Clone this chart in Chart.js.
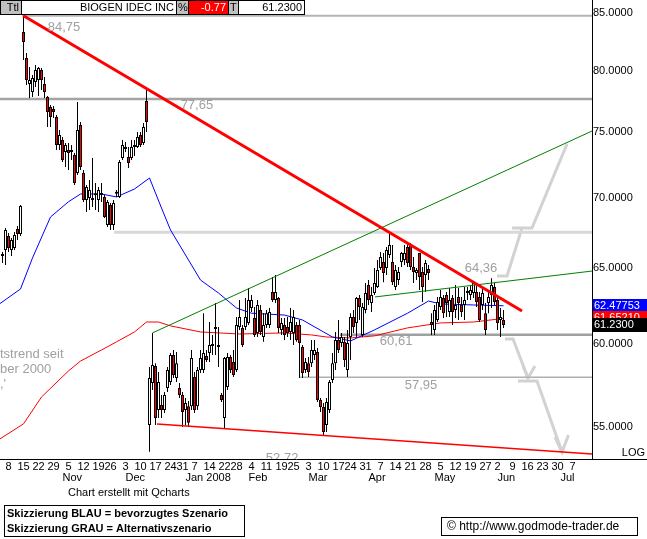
<!DOCTYPE html>
<html><head><meta charset="utf-8">
<script src="https://cdn.jsdelivr.net/npm/chart.js@4.4.1/dist/chart.umd.min.js"></script>
<style>html,body{margin:0;padding:0;background:#fff;}canvas{display:block;}</style>
</head><body>
<canvas id="c" width="647" height="539"></canvas>
<script>
// ---------- DATA ----------
const title = 'BIOGEN IDEC INC';
const changePct = '-0.77';
const lastPriceText = '61.2300';
const blueLastText = '62.47753';
const redLastText = '61.65210';

// trading-day index of first candle (index 0 = 8 Oct 2007)
const firstIndex = -2;
// candles: [open, high, low, close]
const candles = [
[65.97,66.11,65.35,65.83],[66.25,67.80,65.21,67.66],[67.23,67.45,66.11,66.39],[66.25,67.09,65.83,66.95],
[66.39,67.52,66.25,67.31],[67.73,67.94,66.95,67.38],[67.38,69.46,67.23,69.39],[83.32,84.75,80.90,82.45],
[81.07,81.50,78.80,79.22],[78.89,80.30,77.73,79.22],[78.22,79.64,77.81,79.39],[79.05,80.47,78.64,80.05],
[79.22,80.30,77.89,80.22],[80.05,80.22,78.39,79.22],[78.89,79.47,77.73,78.22],[77.81,77.89,75.40,76.60],
[77.00,77.16,75.40,76.20],[76.84,77.08,76.12,76.60],[76.20,76.36,73.60,73.98],[73.98,75.16,73.60,74.76],
[74.37,74.60,72.68,72.83],[73.44,74.14,72.29,73.98],[73.60,74.14,72.06,73.37],[73.52,73.98,72.83,73.44],
[73.21,73.37,70.94,71.08],[71.84,77.41,71.69,75.16],[75.56,75.80,72.06,72.29],[71.84,72.06,69.68,69.83],
[69.83,70.94,68.95,70.79],[69.98,71.31,69.10,70.57],[69.90,72.98,69.32,69.83],[70.32,71.08,69.10,70.17],
[69.83,70.79,68.95,70.57],[70.35,71.08,69.68,70.20],[70.05,70.20,68.51,68.59],[68.01,69.83,67.87,69.68],
[69.46,69.60,67.66,68.01],[68.01,69.83,67.66,69.60],[70.43,70.57,70.05,70.28],[70.05,72.83,69.98,72.68],
[72.98,74.37,72.83,73.98],[73.83,74.21,73.44,73.68],[73.06,73.83,72.21,72.60],[72.98,74.37,72.83,73.83],
[73.83,74.37,73.13,73.91],[73.83,75.00,73.75,74.60],[74.76,75.00,73.83,73.98],[74.14,75.72,73.98,75.40],
[77.49,78.56,75.00,75.80],
[55.12,58.58,53.58,57.91],[57.61,60.72,57.18,58.70],[58.64,58.82,55.12,55.53],[55.99,58.28,55.53,57.67],
[56.28,56.88,55.53,55.99],[55.99,57.06,55.82,56.88],[57.30,58.58,57.06,58.40],[57.67,59.45,57.48,59.33],
[59.33,59.64,57.91,58.09],[57.91,59.51,57.67,58.82],[57.30,57.61,56.70,56.88],[56.88,57.06,55.00,55.87],
[55.99,56.70,55.12,56.40],[56.22,56.52,55.00,55.24],[56.22,59.64,55.99,59.14],[57.97,58.28,55.82,55.99],
[56.22,58.58,55.99,58.40],[58.40,59.64,58.22,59.14],[58.40,61.99,58.22,59.45],[59.26,59.64,58.89,59.01],
[59.45,61.42,58.89,59.95],[59.89,60.59,59.33,60.02],[61.10,62.66,59.33,60.97],[59.89,61.10,58.58,59.83],
[56.88,57.00,56.46,56.58],[55.53,59.20,54.89,59.14],[57.36,59.45,57.18,59.20],[59.20,59.33,58.22,58.40],
[58.89,59.64,57.97,58.09],[58.40,61.74,58.28,61.23],[61.10,62.86,60.91,61.74],[61.04,61.23,59.83,59.95],
[61.10,62.99,60.91,61.74],[61.36,63.65,61.23,62.86],[62.33,63.19,62.07,62.86],[61.68,62.40,60.46,60.59],
[60.72,62.86,60.46,62.53],[62.20,62.53,60.59,60.78],[60.46,61.99,60.15,61.23],[61.23,62.20,61.04,61.99],
[61.23,62.33,61.04,62.07],[63.39,64.39,62.73,62.86],[62.86,64.53,62.66,63.39],[62.99,63.06,60.72,61.04],
[60.91,61.68,60.59,61.36],[61.23,61.68,60.27,60.59],[61.10,61.74,60.46,60.72],[60.78,62.33,60.27,61.42],
[60.72,62.20,59.95,61.74],[61.23,61.42,60.15,60.27],[61.23,61.55,57.91,60.08],[59.83,59.95,57.91,58.22],
[58.40,59.14,58.22,58.89],[58.82,59.20,57.97,58.28],[58.82,60.27,58.58,59.64],[59.33,60.27,59.01,59.64],
[59.51,59.76,56.46,56.58],[56.58,56.70,55.87,56.17],[56.17,56.40,54.54,54.71],[55.12,56.70,54.71,56.46],
[55.99,57.79,55.82,57.67],[57.79,59.45,57.61,58.82],[58.82,60.78,58.40,60.27],[60.27,61.55,59.45,59.64],
[60.08,60.72,59.83,60.46],[60.15,60.46,58.58,59.01],[58.40,60.91,57.97,60.08],[60.46,61.99,59.01,61.74],
[61.74,62.20,60.72,61.10],[61.36,63.06,60.46,62.99],[62.99,63.19,61.55,62.40],[60.59,62.66,60.46,62.40],
[62.20,63.99,61.99,63.32],[63.85,64.19,62.53,62.86],[62.66,63.72,62.07,63.19],[63.32,65.01,63.19,63.99],
[63.72,65.56,63.65,64.87],[65.01,66.11,64.87,65.77],[65.42,66.04,64.05,64.66],[65.01,66.46,64.53,66.25],
[65.90,67.45,65.70,66.60],[65.42,66.60,63.85,64.05],[63.72,65.21,63.52,64.87],[64.19,65.08,63.85,64.73],
[65.42,66.11,65.08,66.04],[65.56,66.60,65.21,66.04],[66.46,66.81,65.08,65.35],[66.60,66.74,64.87,65.08],
[65.08,65.77,63.99,64.73],[64.66,65.01,64.19,64.87],[66.04,66.04,63.52,64.39],[64.73,65.08,62.73,63.72],
[64.53,65.56,63.39,65.35],[64.94,65.21,64.19,64.66],[61.42,61.99,60.59,61.23],[60.91,62.53,60.59,62.20],
[61.55,63.06,61.42,62.73],[62.40,63.52,62.20,63.06],[62.99,63.19,61.68,61.99],[63.19,63.39,61.74,62.66],
[62.07,63.65,61.74,62.86],[62.99,63.19,61.23,62.07],[62.20,63.85,61.68,62.53],[63.06,63.65,61.55,62.66],
[62.53,63.06,61.74,62.07],[62.53,63.72,61.55,62.86],[63.39,63.72,62.86,63.32],[63.19,63.85,62.86,63.52],
[63.32,64.05,62.99,63.99],[63.39,63.85,62.40,62.73],[63.06,63.39,61.42,61.55],[62.53,63.72,62.20,63.32],
[61.99,62.66,60.59,60.91],[62.66,63.52,61.99,63.06],[63.19,64.32,62.33,63.85],[63.72,63.99,62.53,62.73],
[62.86,63.06,60.91,61.36],[61.55,62.33,60.46,61.74],[61.55,62.20,61.04,61.23]
];

// week ticks (trading-day index) with day labels
const tickIdx = [0,5,10,15,20,25,30,34,39,44,49,54,58,62,67,72,76,81,86,91,95,100,105,110,114,119,124,129,134,139,144,149,154,159,163,168,173,178,183,188];
const tickDay = ['8','15','22','29','5','12','19','26','3','10','17','24','31','7','14','22','28','4','11','19','25','3','10','17','24','31','7','14','21','28','5','12','19','27','2','9','16','23','30','7'];
// month labels at first trading day of each month
const monthIdx  = [18,39,59,80,100,120,142,163,184];
const monthName = ['Nov','Dec','Jan 2008','Feb','Mar','Apr','May','Jun','Jul'];
const yTicks = [55,60,65,70,75,80,85];

// moving averages [index, value]
const blueMA = [[-3,62.60],[4,63.59],[8,65.70],[14,68.59],[20,69.70],[24,70.27],[31,70.27],[36,70.05],[42,70.64],[47,71.46],
  [51,69.24],[54,67.66],[62,64.87],[64,64.19],[70,63.32],[76,62.33],[81,61.99],[92,61.87],[98,61.55],[105,60.78],[108,60.46],
  [114,60.21],[122,60.91],[133,61.99],[140,62.79],[144,62.60],[155,62.53],[165,62.478]];
const redMA = [[-3,54.30],[5,55.18],[11,56.76],[20,58.34],[24,58.95],[31,59.64],[36,60.15],[42,60.78],[46,61.42],[50,61.42],
  [54,61.17],[64,60.78],[77,60.65],[92,60.72],[101,60.59],[106,60.46],[114,60.40],[122,60.53],[133,61.04],[144,61.36],[155,61.42],[165,61.65]];

// trend lines [index, price]
const downTrend = [[5,84.75],[171.17,62.14]];
const upperChannel = [[48,60.72],[194.5,75.08]];
const lowerGreen = [[122.17,63.06],[194.5,64.80]];
const supportLine = [[49.5,55.17],[194.5,53.46]];

// horizontal levels
const levelValues = [84.75,77.65,67.5,60.61,57.95];
const levelFrom   = [4.5,-3,35.2,110.5,97.2];
const levelTexts  = ['84,75','77,65','64,36','60,61','57,95','52,72'];
const levelTextPos = [[18.5,83.76],[62.8,77.16],[157.5,65.01],[129.2,60.21],[137.5,57.48],[91.2,53.20]];

// scenario sketch paths [index, price]
const scenUp1 = [[162.83,64.46],[166.17,64.46],[171.17,67.80]];
const scenUp2 = [[167.83,67.80],[174.5,67.80],[186.17,74.06]];
const scenDn1 = [[165.5,60.33],[168.17,60.33],[173.17,57.91]];
const scenArr1 = [[171.5,58.64],[173.17,57.91],[175.5,58.64]];
const scenDn2 = [[169.83,57.73],[176.17,57.73],[184.5,53.57]];
const scenArr2 = [[182.17,54.42],[184.5,53.57],[186.67,54.54]];

const noteLines = [['tstrend seit',59.39],['ber 2000',58.46],[",'",57.54]];

// ---------- CHART ----------
const X_MIN = -8.5/3, X_MAX = (592-8.5)/3;
const Y_MIN = 53.18, Y_MAX = 86.17;
const FONT = '"Liberation Sans", Arial, sans-serif';
Chart.defaults.font.family = FONT;
Chart.defaults.font.size = 11;
Chart.defaults.color = '#000';

const pts = a => a.map(p => ({x:p[0], y:p[1]}));
function lineDs(points, color, width, order){
  return {type:'line', data:pts(points), borderColor:color, borderWidth:width, pointRadius:0, pointHoverRadius:0,
          fill:false, tension:0, order:order, borderCapStyle:'butt'};
}

const datasets = [];
datasets.push({type:'bar', data:candles.map((c,k)=>({x:firstIndex+k, y:[Math.min(c[0],c[3]),Math.max(c[0],c[3])]})),
  backgroundColor:candles.map(c=>c[3]>=c[0]?'#ffffff':'#ff0000'), borderColor:'#000', borderWidth:1,
  borderSkipped:false, barThickness:3, grouped:false, minBarLength:2, inflateAmount:0, order:2});
datasets.push({type:'bar', data:candles.map((c,k)=>({x:firstIndex+k, y:[c[2],c[1]]})),
  backgroundColor:'#000', borderWidth:0, barThickness:1, grouped:false, inflateAmount:0, order:3});
const levelColors = ['#b4b4b4','#a4a4a4','#d8d8d8','#a0a0a0','#b0b0b0'];
const levelWidths = [2,2.5,3,2.5,1.5];
levelValues.forEach((v,k)=>datasets.push(lineDs([[levelFrom[k],v],[X_MAX+1,v]], levelColors[k], levelWidths[k], 6)));
[scenUp1,scenUp2,scenDn1,scenArr1,scenDn2,scenArr2].forEach(p=>datasets.push(lineDs(p,'#d2d2d2',3,6)));
datasets.push(lineDs(blueMA,'#0000ff',1,4));
datasets.push(lineDs(redMA,'#ff0000',1,4));
datasets.push(lineDs(upperChannel,'#008000',1,1));
datasets.push(lineDs(lowerGreen,'#008000',1,1));
datasets.push(lineDs(supportLine,'#ff0000',1.5,1));
datasets.push(lineDs(downTrend,'#ff0000',3,0));

function cell(ctx,x,w,bg,text,color,align){
  ctx.fillStyle=bg; ctx.fillRect(x,0,w,15);
  ctx.strokeStyle='#000'; ctx.lineWidth=1; ctx.strokeRect(x+0.5,0.5,w-1,14);
  ctx.fillStyle=color; ctx.textAlign=align; ctx.textBaseline='middle';
  ctx.fillText(text, align==='right'? x+w-3 : (align==='center'? x+w/2 : x+2), 8);
}

const decor = {
  id:'decor',
  beforeDraw(chart){ const c=chart.ctx; c.save(); c.fillStyle='#fff'; c.fillRect(0,0,chart.width,chart.height); c.restore(); },
  afterDatasetsDraw(chart){
    const {ctx, chartArea:a, scales:{x,y}} = chart;
    ctx.save(); ctx.beginPath(); ctx.rect(a.left,a.top,a.right-a.left,a.bottom-a.top); ctx.clip();
    ctx.font='13px '+FONT; ctx.fillStyle='#a0a0a0'; ctx.textAlign='center'; ctx.textBaseline='middle';
    levelTexts.forEach((t,k)=>ctx.fillText(t, x.getPixelForValue(levelTextPos[k][0]), y.getPixelForValue(levelTextPos[k][1])));
    ctx.textAlign='left';
    noteLines.forEach(n=>ctx.fillText(n[0], 0, y.getPixelForValue(n[1])));
    ctx.restore();
  },
  afterDraw(chart){
    const {ctx, chartArea:a, scales:{y}} = chart;
    ctx.save();
    ctx.font='11px '+FONT;
    cell(ctx,0,22,'#c0c0c0','Ttl','#000','right');
    cell(ctx,21,156,'#ffffff',title,'#000','right');
    cell(ctx,176,13,'#c0c0c0','%','#000','left');
    cell(ctx,188,41,'#ff0000',changePct,'#ffffff','right');
    cell(ctx,228,11,'#c0c0c0','T','#000','left');
    cell(ctx,238,67,'#ffffff',lastPriceText,'#000','right');
    const box=(val,txt,bg)=>{ const py=Math.round(y.getPixelForValue(val)); ctx.fillStyle=bg; ctx.fillRect(593,py-7,54,14);
      ctx.fillStyle='#fff'; ctx.textAlign='left'; ctx.textBaseline='middle'; ctx.fillText(txt,594,py); };
    box(blueMA[blueMA.length-1][1], blueLastText, '#0000ff');
    box(redMA[redMA.length-1][1], redLastText, '#ff0000');
    box(candles[candles.length-1][3], lastPriceText, '#000000');
    ctx.strokeStyle='#000'; ctx.lineWidth=1; ctx.beginPath(); ctx.moveTo(a.right,a.bottom+0.5); ctx.lineTo(647,a.bottom+0.5); ctx.stroke();
    ctx.fillStyle='#000'; ctx.textAlign='right'; ctx.textBaseline='middle'; ctx.fillText('LOG',645,453);
    ctx.textAlign='left'; ctx.fillText('Chart erstellt mit Qcharts',68,493);
    ctx.strokeRect(4.5,505.5,240,31);
    ctx.font='bold 11px '+FONT;
    ctx.fillText('Skizzierung BLAU = bevorzugtes Szenario',7,514);
    ctx.fillText('Skizzierung GRAU = Alternativszenario',7,529);
    ctx.font='12px '+FONT;
    ctx.strokeRect(441.5,517.5,196,18);
    ctx.fillText('\u00A9 http://www.godmode-trader.de',447,527);
    ctx.restore();
  }
};

new Chart(document.getElementById('c'), {
  type:'bar',
  data:{datasets},
  plugins:[decor],
  options:{
    responsive:false, devicePixelRatio:1, animation:false, events:[],
    layout:{padding:0},
    plugins:{legend:{display:false}, tooltip:{enabled:false}},
    scales:{
      x:{type:'linear', position:'bottom', weight:0, min:X_MIN, max:X_MAX, bounds:'data', offset:false,
         grid:{display:false, drawTicks:false}, border:{display:true,color:'#000',width:1},
         afterBuildTicks:s=>{ s.ticks = tickIdx.map(v=>({value:v})); },
         afterFit:s=>{ s.height=13; s.paddingLeft=0; s.paddingRight=0; },
         ticks:{autoSkip:false, maxRotation:0, minRotation:0, padding:2, color:'#000', font:{size:11, lineHeight:1},
           callback:v=>{ const k=tickIdx.indexOf(v); return k<0 ? '' : tickDay[k]; }}},
      x2:{type:'linear', position:'bottom', weight:1, min:X_MIN, max:X_MAX, bounds:'data', offset:false,
         grid:{display:false, drawTicks:false}, border:{display:false},
         afterBuildTicks:s=>{ s.ticks = monthIdx.map(v=>({value:v})); },
         afterFit:s=>{ s.height=67; s.paddingLeft=0; s.paddingRight=0; },
         ticks:{autoSkip:false, maxRotation:0, minRotation:0, align:'start', padding:0, color:'#000', font:{size:11, lineHeight:1},
           callback:v=>{ const k=monthIdx.indexOf(v); return k<0 ? '' : monthName[k]; }}},
      y:{type:'logarithmic', position:'right', min:Y_MIN, max:Y_MAX, bounds:'data', beginAtZero:false,
         grid:{display:false, drawTicks:false}, border:{display:true,color:'#000',width:1},
         afterBuildTicks:s=>{ s.ticks = yTicks.map(v=>({value:v})); },
         afterFit:s=>{ s.width=55; s.paddingTop=0; s.paddingBottom=0; },
         ticks:{padding:1, color:'#000', font:{size:11}, callback:v=>Number(v).toFixed(4)}}
    }
  }
});
</script>
</body></html>
